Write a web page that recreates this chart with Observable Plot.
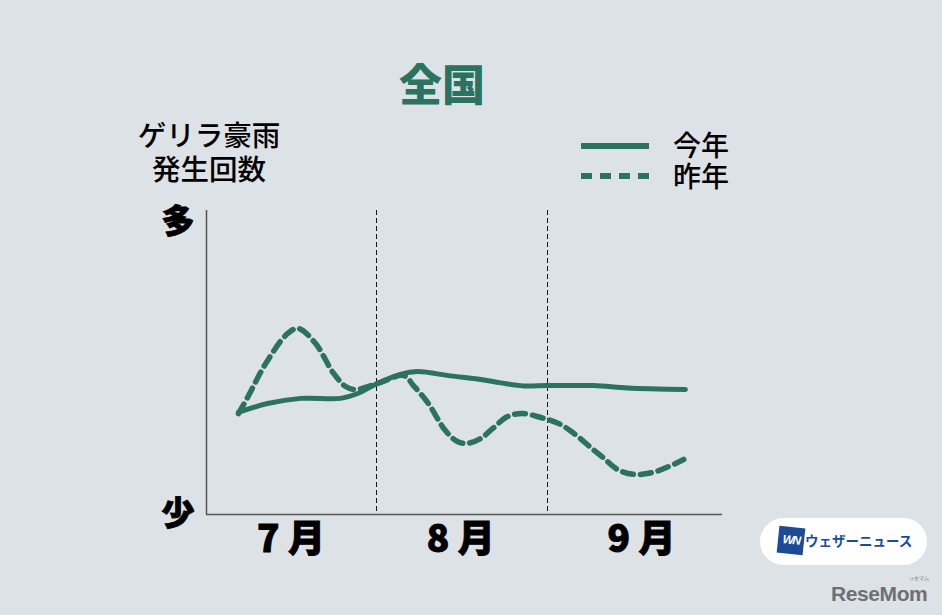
<!DOCTYPE html>
<html lang="ja">
<head>
<meta charset="utf-8">
<script src="https://cdn.jsdelivr.net/npm/d3@7"></script>
<script src="https://cdn.jsdelivr.net/npm/@observablehq/plot@0.6"></script>
<style>
html,body{margin:0;padding:0;background:#dde2e6;width:942px;height:615px;overflow:hidden;font-family:"Noto Sans CJK JP",sans-serif;color:#000}
#chart{position:absolute;left:0;top:0}
.t{position:absolute;white-space:nowrap;line-height:1}
#title{left:399px;top:61px;font-size:43px;font-weight:900;color:#2b735f}
#ylab{left:129px;top:117px;width:160px;text-align:center;font-size:28.5px;font-weight:500;line-height:34px}
.leg{left:673px;font-size:28px;font-weight:500}
.key{position:absolute;left:581px;width:68px;height:0;border-top:6px solid #2b735f}
#k2{border:0;height:6px;background:repeating-linear-gradient(90deg,#2b735f 0 11px,transparent 11px 19px)}
#pill{position:absolute;left:760px;top:518px;width:167px;height:47px;border-radius:24px;background:#fff}
#wn{position:absolute;left:18px;top:9px;width:26px;height:27px;background:#1c4a94;color:#fff;font:italic 700 12px "Liberation Sans",sans-serif;text-align:center;line-height:27px;letter-spacing:-1.5px;transform:rotate(6deg)}
#wnt{position:absolute;left:45px;top:15px;font-size:13.5px;font-weight:700;color:#1c4a94;white-space:nowrap;line-height:1.1}
#rm{left:831px;top:582px;font:700 21px "Liberation Sans",sans-serif;color:#6f7072;letter-spacing:-.4px}
#rmr{left:909px;top:575px;font-size:5px;color:#6f7072}
svg g[aria-label="x-axis tick label"] text,svg g[aria-label="y-axis tick label"] text{font-weight:900;stroke:#000;stroke-width:.9px}
</style>
</head>
<body>
<div id="chart"></div>
<div class="t" id="title">全国</div>
<div class="t" id="ylab">ゲリラ豪雨<br>発生回数</div>
<div class="key" style="top:143px"></div>
<div class="key" id="k2" style="top:173px"></div>
<div class="t leg" style="top:130px">今年</div>
<div class="t leg" style="top:161px">昨年</div>
<div id="pill"><div id="wn">WN</div><div id="wnt">ウェザーニュース</div></div>
<div class="t" id="rm">ReseMom</div>
<div class="t" id="rmr">リセマム</div>
<script>
const thisYearDays = [5.6,10.7,16.5,23.5,26.5,30,34,37,42.8,48.1,51.6,55.6,59.8,67.9,73.9,84];
const thisYearValues = [33.6,36.5,38.2,38.2,39.8,43.1,46.1,47,45.6,44.4,43.3,42.3,42.4,42.4,41.6,41.1];
const lastYearDays = [5.6,7.2,10.4,14.2,16.1,19.1,22.3,24.4,26.1,30,34.6,36.3,38.8,41.9,44,45.8,48.1,50.2,52.8,55.4,58.6,61.8,64.7,67.4,69.5,72.1,74.9,78.2,81.1,83.7];
const lastYearValues = [33.2,38.5,49.7,59.5,61.2,56.3,46.4,42.1,41.1,43.1,45.7,42.4,36.8,27.6,24,23.4,25,28.3,32.2,33.2,31.9,29.9,26.3,22,18.8,14.8,13.2,13.8,15.8,18.1];
const monthBoundaries = [29.82,59.81];
const monthTicks = [14.8,44.6,76.3];
const monthLabels = ["7 月","8 月","9 月"];
const yTicks = [0,96];
const yLabels = ["少","多"];

const thisYear = thisYearDays.map((d,i)=>({d,v:thisYearValues[i]}));
const lastYear = lastYearDays.map((d,i)=>({d,v:lastYearValues[i]}));
const green = "#2b735f";

const plot = Plot.plot({
  width:942,height:615,
  marginLeft:206,marginRight:220,marginTop:210,marginBottom:101,
  style:{background:"transparent",fontFamily:'"Noto Sans CJK JP",sans-serif',color:"#000"},
  x:{domain:[0,90.5]},
  y:{domain:[0,100]},
  marks:[
    Plot.ruleX(monthBoundaries,{stroke:"#111",strokeWidth:1,strokeDasharray:"5 3"}),
    Plot.lineY(lastYear,{x:"d",y:"v",curve:"catmull-rom",stroke:green,strokeWidth:5.5,strokeDasharray:"11 7"}),
    Plot.lineY(thisYear,{x:"d",y:"v",curve:"catmull-rom",stroke:green,strokeWidth:5}),
    Plot.ruleX([0],{stroke:"#555",strokeWidth:1.5}),
    Plot.ruleY([0],{stroke:"#555",strokeWidth:1.5}),
    Plot.axisX(monthTicks,{tickSize:0,tickPadding:11,fontSize:37,label:null,tickFormat:(d,i)=>monthLabels[i]}),
    Plot.axisY(yTicks,{tickSize:0,tickPadding:12,fontSize:33,label:null,tickFormat:(d,i)=>yLabels[i]})
  ]
});
document.getElementById("chart").appendChild(plot);
</script>
</body>
</html>
